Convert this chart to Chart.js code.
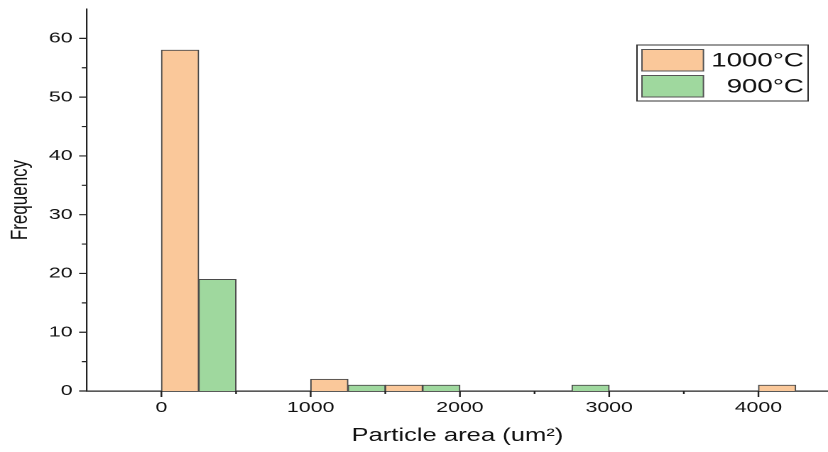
<!DOCTYPE html>
<html>
<head>
<meta charset="utf-8">
<script src="https://cdn.jsdelivr.net/npm/chart.js@4.4.1/dist/chart.umd.min.js"></script>
<style>
  html, body { margin: 0; padding: 0; background: #fff; overflow: hidden; }
  /* the figure is laid out narrow and widened horizontally */
  #wrap { width: 583px; height: 452px; transform: scaleX(1.42024); transform-origin: 0 0; }
  canvas { display: block; }
</style>
</head>
<body>
<div id="wrap"><canvas id="c" width="583" height="452"></canvas></div>
<script>
// Histogram of particle areas, bins of 250 um^2 (values are bin centres)
const seriesLabels = ['1000°C', '900°C'];
const centers1000 = [125, 1125, 1625, 4125];
const freq1000 = [58, 2, 1, 1];
const centers900 = [375, 1375, 1875, 2875];
const freq900 = [19, 1, 1, 1];

const xMajorTicks = [0, 1000, 2000, 3000, 4000];
const xMinorTicks = [500, 1500, 2500, 3500];
const yMajorTicks = [0, 10, 20, 30, 40, 50, 60];
const yMinorTicks = [5, 15, 25, 35, 45, 55];

const seriesColors = ['#FAC89A', '#9FD89E'];
const FONT = 'Liberation Sans, Arial, Helvetica, sans-serif';

const toPoints = (xs, ys) => xs.map((x, i) => ({ x: x, y: ys[i] }));

// outward tick marks, long for labelled values and short in between
const tickMarks = {
  id: 'tickMarks',
  afterDraw(chart) {
    const { ctx, scales: { x, y }, chartArea } = chart;
    ctx.save();
    ctx.strokeStyle = '#222';
    ctx.lineWidth = 1.2;
    ctx.beginPath();
    xMajorTicks.forEach(v => { const p = x.getPixelForValue(v); ctx.moveTo(p, chartArea.bottom); ctx.lineTo(p, chartArea.bottom + 6); });
    xMinorTicks.forEach(v => { const p = x.getPixelForValue(v); ctx.moveTo(p, chartArea.bottom); ctx.lineTo(p, chartArea.bottom + 3); });
    yMajorTicks.forEach(v => { const p = y.getPixelForValue(v); ctx.moveTo(chartArea.left, p); ctx.lineTo(chartArea.left - 5.4, p); });
    yMinorTicks.forEach(v => { const p = y.getPixelForValue(v); ctx.moveTo(chartArea.left, p); ctx.lineTo(chartArea.left - 3.5, p); });
    ctx.stroke();
    ctx.restore();
  }
};

// boxed legend in the upper right
const boxLegend = {
  id: 'boxLegend',
  afterDraw(chart) {
    const { ctx } = chart;
    const box = { l: 448.5, t: 45, r: 569, b: 101 };
    const rows = [{ y: 49.5, h: 21.5 }, { y: 75.5, h: 21.5 }];
    ctx.save();
    ctx.fillStyle = '#fff';
    ctx.fillRect(box.l, box.t, box.r - box.l, box.b - box.t);
    ctx.strokeStyle = '#333';
    ctx.lineWidth = 1;
    ctx.strokeRect(box.l, box.t, box.r - box.l, box.b - box.t);
    chart.data.datasets.forEach((ds, i) => {
      const r = rows[i];
      ctx.fillStyle = ds.backgroundColor;
      ctx.fillRect(452, r.y, 43.3, r.h);
      ctx.strokeStyle = '#555';
      ctx.strokeRect(452, r.y, 43.3, r.h);
      ctx.fillStyle = '#111';
      ctx.font = '19.5px ' + FONT;
      ctx.textAlign = 'right';
      ctx.textBaseline = 'middle';
      ctx.fillText(ds.label, 566, r.y + r.h / 2 + 1);
    });
    ctx.restore();
  }
};

new Chart(document.getElementById('c'), {
  type: 'bar',
  data: {
    datasets: [
      { label: seriesLabels[0], data: toPoints(centers1000, freq1000), backgroundColor: seriesColors[0] },
      { label: seriesLabels[1], data: toPoints(centers900, freq900), backgroundColor: seriesColors[1] }
    ]
  },
  options: {
    responsive: false,
    animation: false,
    devicePixelRatio: 2,
    layout: { padding: { top: 0, left: 0, right: 0, bottom: 0 } },
    datasets: {
      bar: {
        grouped: false,
        barPercentage: 1,
        categoryPercentage: 1,
        borderColor: '#4a4a4a',
        borderWidth: 1,
        borderSkipped: 'start'
      }
    },
    plugins: { legend: { display: false }, tooltip: { enabled: false } },
    scales: {
      x: {
        type: 'linear',
        offset: false,
        min: -500,
        max: 4466,
        afterBuildTicks: s => { s.ticks = xMajorTicks.map(v => ({ value: v })); },
        afterFit: s => { s.height = 61; },
        grid: { display: false, drawTicks: false },
        border: { display: true, color: '#222', width: 1.3 },
        ticks: {
          autoSkip: false, maxRotation: 0, padding: 8, color: '#111',
          font: { family: FONT, size: 15 },
          callback: v => String(v)
        },
        title: {
          display: true,
          text: 'Particle area (um²)',
          color: '#111',
          font: { family: FONT, size: 18 },
          padding: { top: 0, bottom: 5 }
        }
      },
      y: {
        min: 0,
        max: 65,
        afterBuildTicks: s => { s.ticks = yMajorTicks.map(v => ({ value: v })); },
        afterFit: s => { s.width = 61.1; s.paddingTop = 9; s.paddingBottom = 0; },
        grid: { display: false, drawTicks: false },
        border: { display: true, color: '#222', width: 1.1 },
        ticks: { padding: 10, color: '#111', font: { family: FONT, size: 15 }, callback: v => String(v) },
        title: {
          display: true,
          text: 'Frequency',
          color: '#111',
          font: { family: FONT, size: 17 },
          padding: { top: 4, bottom: 0 }
        }
      }
    }
  },
  plugins: [tickMarks, boxLegend]
});
</script>
</body>
</html>
